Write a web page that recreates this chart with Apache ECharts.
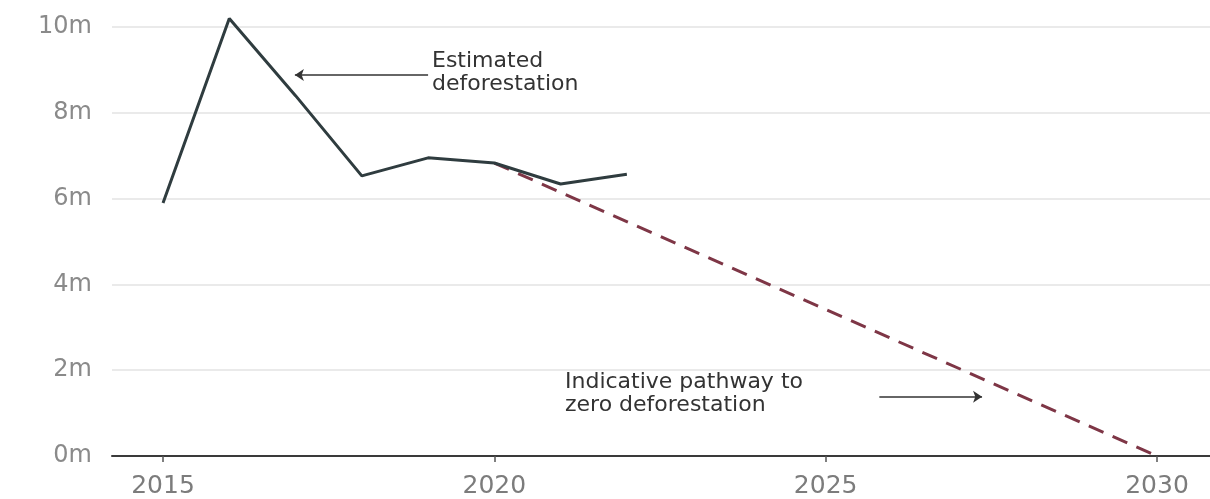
<!DOCTYPE html>
<html>
<head>
<meta charset="utf-8">
<script src="https://cdn.jsdelivr.net/npm/echarts@6/dist/echarts.min.js"></script>
<style>
  html, body { margin: 0; padding: 0; background: #fff; }
  #chart { width: 1210px; height: 499px; }
</style>
</head>
<body>
<div id="chart"></div>
<script>
// estimated deforestation, millions
const years = [2015, 2016, 2017, 2018, 2019, 2020, 2021, 2022];
const deforestation = [5.9, 10.2, 8.4, 6.53, 6.95, 6.83, 6.34, 6.57];

// indicative pathway to zero by 2030
const pathwayYears = [2020, 2030];
const pathwayValues = [6.83, 0];

const yearTicks = [2015, 2020, 2025, 2030];
const yTicks = [0, 2, 4, 6, 8, 10];

const chart = echarts.init(document.getElementById('chart'));

const axisFont = 'DejaVu Sans';

const option = {
  animation: false,
  grid: {
    left: 112,
    right: 0,
    top: 0,
    bottom: 43
  },
  xAxis: {
    type: 'value',
    min: 2014.23,
    max: 2030.8,
    axisLine: {
      show: true,
      lineStyle: { color: '#3a3a3a', width: 2 }
    },
    axisTick: {
      show: true,
      customValues: yearTicks,
      length: 6,
      lineStyle: { color: '#555', width: 1.5 }
    },
    axisLabel: {
      customValues: yearTicks,
      color: '#7c7c7c',
      fontSize: 25,
      fontFamily: axisFont,
      margin: 18,
      formatter: v => String(v)
    },
    splitLine: { show: false }
  },
  yAxis: {
    type: 'value',
    min: 0,
    max: 10.63,
    interval: 2,
    axisLine: { show: false },
    axisTick: { show: false },
    axisLabel: {
      color: '#8a8a8a',
      fontSize: 24,
      fontFamily: axisFont,
      margin: 20,
      showMaxLabel: false,
      formatter: v => (yTicks.indexOf(v) >= 0 ? v + 'm' : '')
    },
    splitLine: {
      showMaxLine: false,
      lineStyle: { color: '#e3e3e3', width: 1.5 }
    }
  },
  series: [
    {
      name: 'Estimated deforestation',
      type: 'line',
      data: years.map((y, i) => [y, deforestation[i]]),
      symbol: 'none',
      lineStyle: { color: '#2f3c3f', width: 3 },
      z: 3,
      markLine: {
        silent: true,
        symbol: ['arrow', 'none'],
        symbolSize: [9, 9],
        label: { show: false },
        lineStyle: { color: '#333', width: 1.5, type: 'solid' },
        data: [
          [{ coord: [2016.99, 8.88] }, { coord: [2019.0, 8.88] }],
          [{ coord: [2027.36, 1.38] }, { coord: [2025.81, 1.38] }]
        ]
      }
    },
    {
      name: 'Indicative pathway to zero deforestation',
      type: 'line',
      data: pathwayYears.map((y, i) => [y, pathwayValues[i]]),
      symbol: 'none',
      lineStyle: { color: '#7e3646', width: 3, type: [16, 10] },
      z: 2
    }
  ],
  graphic: [
    {
      type: 'text',
      left: 432,
      top: 50,
      style: {
        text: 'Estimated\ndeforestation',
        fill: '#333',
        font: '22px "DejaVu Sans"',
        lineHeight: 23
      }
    },
    {
      type: 'text',
      left: 565,
      top: 371,
      style: {
        text: 'Indicative pathway to\nzero deforestation',
        fill: '#333',
        font: '22px "DejaVu Sans"',
        lineHeight: 23
      }
    }
  ]
};

chart.setOption(option);
</script>
</body>
</html>
